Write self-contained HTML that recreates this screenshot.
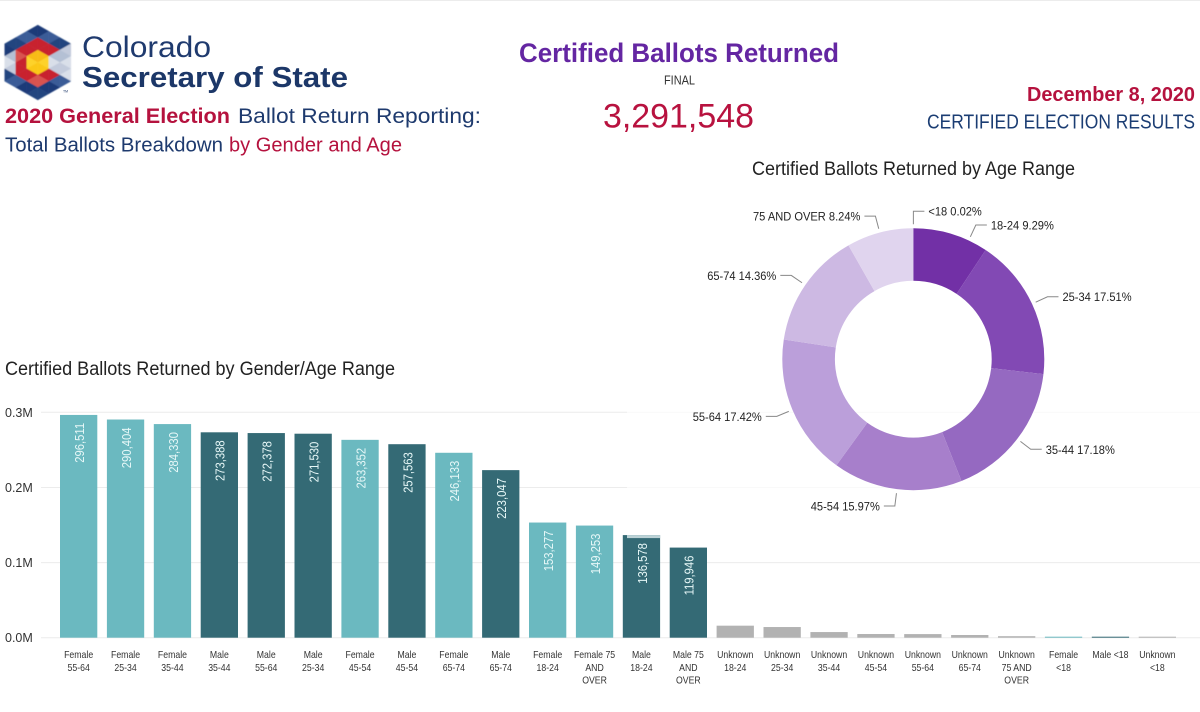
<!DOCTYPE html>
<html lang="en">
<head>
<meta charset="utf-8">
<title>Certified Ballots Returned</title>
<style>
html,body{margin:0;padding:0;background:#fff;width:1200px;height:712px;overflow:hidden}
svg{display:block}
text{font-family:"Liberation Sans",sans-serif}
</style>
</head>
<body>
<svg id="root" width="1200" height="712" viewBox="0 0 1200 712" xmlns="http://www.w3.org/2000/svg">
  <defs>
    <filter id="logo-soften" x="-5%" y="-5%" width="110%" height="110%"><feGaussianBlur stdDeviation="0.45"/></filter>
  </defs>
  <rect x="0" y="0" width="1200" height="712" fill="#fff"/>
  <rect x="0" y="0" width="1200" height="1" fill="#ececec"/>

  <g id="logo-mark" filter="url(#logo-soften)"></g>
  <text x="63" y="92.500" font-size="3.500" fill="#1c3768">TM</text>
  <text x="82" y="57" font-size="30" fill="#1f3a6e" textLength="129" lengthAdjust="spacingAndGlyphs">Colorado</text>
  <text x="82" y="87" font-size="29" font-weight="700" fill="#1c3768" textLength="266" lengthAdjust="spacingAndGlyphs">Secretary of State</text>

  <text x="5" y="123" font-size="21.500" font-weight="700" fill="#b5123e" textLength="225" lengthAdjust="spacingAndGlyphs">2020 General Election</text>
  <text x="238" y="123" font-size="21.500" fill="#1e3a6e" textLength="243" lengthAdjust="spacingAndGlyphs">Ballot Return Reporting:</text>
  <text x="5" y="151.500" font-size="20" fill="#1e3a6e" textLength="218" lengthAdjust="spacingAndGlyphs">Total Ballots Breakdown</text>
  <text x="229" y="151.500" font-size="20" fill="#b5123e" textLength="173" lengthAdjust="spacingAndGlyphs">by Gender and Age</text>

  <text x="519" y="62" font-size="26.500" font-weight="700" fill="#6426a2" textLength="320" lengthAdjust="spacingAndGlyphs">Certified Ballots Returned</text>
  <text x="664" y="84.500" font-size="13" fill="#333" textLength="31" lengthAdjust="spacingAndGlyphs">FINAL</text>
  <text x="603" y="127.700" font-size="34" fill="#b8123f" textLength="151" lengthAdjust="spacingAndGlyphs">3,291,548</text>

  <text x="1027" y="101" font-size="20" font-weight="700" fill="#b5123e" textLength="168" lengthAdjust="spacingAndGlyphs">December 8, 2020</text>
  <text x="927" y="128.300" font-size="20" fill="#1b3d73" textLength="268" lengthAdjust="spacingAndGlyphs">CERTIFIED ELECTION RESULTS</text>

  <text x="752" y="175" font-size="19" fill="#222" textLength="323" lengthAdjust="spacingAndGlyphs">Certified Ballots Returned by Age Range</text>
  <text x="5" y="375" font-size="19" fill="#222" textLength="390" lengthAdjust="spacingAndGlyphs">Certified Ballots Returned by Gender/Age Range</text>

  <g id="bar-chart"></g>
  <rect x="627" y="180" width="573" height="340" fill="#fff" fill-opacity="0.7"/>
  <g id="donut-chart"></g>
</svg>

<script>
var barCategories = ['Female|55-64','Female|25-34','Female|35-44','Male|35-44','Male|55-64','Male|25-34','Female|45-54','Male|45-54','Female|65-74','Male|65-74','Female|18-24','Female 75|AND|OVER','Male|18-24','Male 75|AND|OVER','Unknown|18-24','Unknown|25-34','Unknown|35-44','Unknown|45-54','Unknown|55-64','Unknown|65-74','Unknown|75 AND|OVER','Female|<18','Male <18','Unknown|<18'];
var barValues = [296511,290404,284330,273388,272378,271530,263352,257563,246133,223047,153277,149253,136578,119946,16000,14200,7500,4900,4800,3600,2000,330,320,20];
var valueLabelsShownFor = ['Female','Male'];
var yTicks = [0,100000,200000,300000];
var yTickLabels = ['0.0M','0.1M','0.2M','0.3M'];
var ageLabels = ['<18','18-24','25-34','35-44','45-54','55-64','65-74','75 AND OVER'];
var agePercents = [0.02,9.29,17.51,17.18,15.97,17.42,14.36,8.24];

var NS = 'http://www.w3.org/2000/svg';
function mk(tag, attrs, parent) {
  var el = document.createElementNS(NS, tag);
  for (var k in attrs) el.setAttribute(k, attrs[k]);
  parent.appendChild(el);
  return el;
}
function squeeze(el, factor) {
  var w = el.getComputedTextLength();
  el.setAttribute('textLength', (w * factor).toFixed(1));
  el.setAttribute('lengthAdjust', 'spacingAndGlyphs');
}

/* ---------- logo ---------- */
(function () {
  var g = document.getElementById('logo-mark');
  var cx = 37.8, cy = 62.5, s = 12.5, R = 37.5, sq = Math.sqrt(3) / 2;
  function P(i, j) { return [cx + i * s * sq * 1.02, cy + j * s + i * s / 2]; }
  function inHex(x, y, r) {
    var a = r * sq * 1.02, ax = Math.abs(x), ay = Math.abs(y);
    return ax <= a && ax / 2 + ay * sq <= a;
  }
  var navy = ['#1b3a78', '#24457f', '#3a5c97'];
  var pale = ['#c3cbdc', '#d9dfe9', '#b4c0d4'];
  var red = ['#c8202f', '#c8202f', '#d9534f'];
  var gold = ['#fbc715', '#fdd22a', '#f8bb14'];
  function tri(a, b, c, n) {
    var mx = (a[0] + b[0] + c[0]) / 3 - cx, my = (a[1] + b[1] + c[1]) / 3 - cy;
    if (!inHex(mx, my, R)) return;
    var set;
    if (inHex(mx, my, 12.6)) set = gold;
    else if (inHex(mx, my, 25.2)) set = (mx > 0 && Math.abs(my) < mx * 0.6) ? pale : red;
    else if (mx > 0) set = Math.abs(my) < 15 ? pale : navy;
    else set = Math.abs(my) < 11 ? pale : navy;
    var col = set[Math.abs(n) % 3];
    var pts = [a, b, c].map(function (p) { return p[0].toFixed(2) + ',' + p[1].toFixed(2); }).join(' ');
    var t = mk('polygon', { points: pts, fill: col, stroke: col, 'stroke-width': 0.3 }, g);
    
    
  }
  for (var i = -4; i < 4; i++) {
    for (var j = -4; j < 4; j++) {
      tri(P(i, j), P(i + 1, j), P(i, j + 1), i + 2 * j);
      tri(P(i + 1, j), P(i + 1, j + 1), P(i, j + 1), i + 2 * j + 1);
    }
  }
})();

/* ---------- bar chart ---------- */
(function () {
  var g = document.getElementById('bar-chart');
  var baseY = 637.7, pxPerUnit = 75.13 / 100000;
  var firstX = 60, step = 46.9, barW = 37.3;
  var gridLeft = 41, gridRight = 1200;
  var groupColors = { Female: '#6bb9c0', Male: '#346a75', Unknown: '#b2b2b2' };
  function yScale(v) { return baseY - v * pxPerUnit; }
  function xScale(i) { return firstX + i * step; }

  yTicks.forEach(function (t, i) {
    var y = yScale(t);
    var line = mk('line', { x1: gridLeft, x2: gridRight, y1: y, y2: y, stroke: '#ececec', 'stroke-width': 1 }, g);
    
    
    var lab = mk('text', { x: 5, y: y + 4.5, 'font-size': 12.5, fill: '#333' }, g);
    lab.textContent = yTickLabels[i];
    
    
  });

  barCategories.forEach(function (cat, i) {
    var group = cat.split(/[ |]/)[0];
    var v = barValues[i], x = xScale(i), top = yScale(v);
    var h = Math.max(baseY - top, 1);
    top = baseY - h;
    var r = mk('rect', { x: x, y: top, width: barW, height: h, fill: groupColors[group] }, g);
    
    

    if (cat === 'Male|18-24') {
      var cap = mk('rect', { x: x + 4.2, y: top, width: barW - 4.2, height: 3, fill: '#bcd2d6' }, g);
      
      
    }

    if (valueLabelsShownFor.indexOf(group) >= 0 && v > 50000) {
      var cx = x + barW / 2 + 5.4, ty = top + 8;
      var t = mk('text', { x: cx, y: ty, 'font-size': 13, fill: '#e6f7f7', 'text-anchor': 'end', transform: 'rotate(-90 ' + cx + ' ' + ty + ')' }, g);
      t.textContent = v.toLocaleString('en-US');
      
      
      squeeze(t, 0.865);
    }

    cat.split('|').forEach(function (line, n) {
      var c = mk('text', { x: x + barW / 2, y: 658 + n * 12.8, 'font-size': 10.5, fill: '#333', 'text-anchor': 'middle' }, g);
      c.textContent = line;
      
      
      squeeze(c, 0.83);
    });
  });
})();

/* ---------- donut chart ---------- */
(function () {
  var g = document.getElementById('donut-chart');
  var cx = 913.3, cy = 359.2, R = 131, r = 78.4;
  var sliceColors = ['#5f1f96', '#7230a6', '#8249b4', '#9569c1', '#a77fcb', '#bb9fda', '#cdb9e3', '#e0d4ee'];
  var leaderNudgeDeg = [0, 8.2, 0, 0, 0, 0, 0, 0];
  var total = agePercents.reduce(function (a, b) { return a + b; }, 0);
  function pol(rad, deg) {
    var a = deg * Math.PI / 180;
    return [cx + rad * Math.sin(a), cy - rad * Math.cos(a)];
  }
  function f(p) { return p[0].toFixed(2) + ' ' + p[1].toFixed(2); }
  var acc = 0;
  agePercents.forEach(function (p, i) {
    var a0 = acc / total * 360, a1 = (acc + p) / total * 360;
    acc += p;
    var large = a1 - a0 > 180 ? 1 : 0;
    var d = 'M' + f(pol(R, a0)) + ' A' + R + ' ' + R + ' 0 ' + large + ' 1 ' + f(pol(R, a1)) +
            ' L' + f(pol(r, a1)) + ' A' + r + ' ' + r + ' 0 ' + large + ' 0 ' + f(pol(r, a0)) + ' Z';
    var s = mk('path', { d: d, fill: sliceColors[i] }, g);
    
    

    var mid = (a0 + a1) / 2 + leaderNudgeDeg[i];
    var p0 = pol(135, mid), p1 = pol(148, mid);
    var dir = mid <= 180 ? 1 : -1;
    var p2 = [p1[0] + dir * 11, p1[1]];
    var l = mk('polyline', { points: f(p0) + ' ' + f(p1) + ' ' + f(p2), fill: 'none', stroke: '#888', 'stroke-width': 1 }, g);
    
    
    var t = mk('text', { x: p2[0] + dir * 4, y: p1[1] + 4.5, 'font-size': 12, fill: '#222', 'text-anchor': dir > 0 ? 'start' : 'end' }, g);
    t.textContent = ageLabels[i] + ' ' + p.toFixed(2) + '%';
    
    
    squeeze(t, 0.925);
  });
})();
</script>
</body>
</html>
